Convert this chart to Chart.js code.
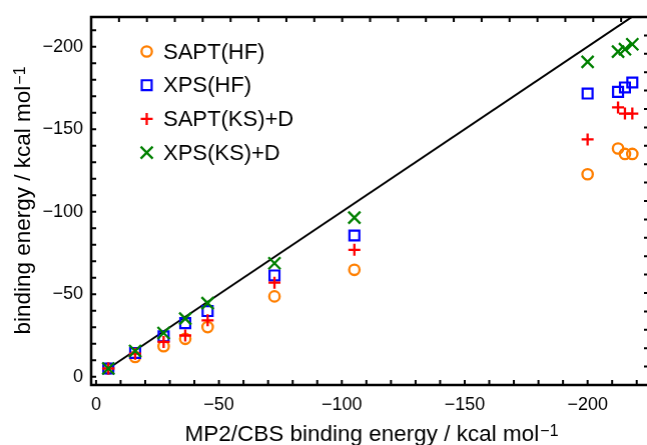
<!DOCTYPE html>
<html><head><meta charset="utf-8">
<script src="https://cdn.jsdelivr.net/npm/chart.js@4.4.1/dist/chart.umd.min.js"></script>
<style>
html,body{margin:0;padding:0;background:#fff;overflow:hidden;}
#wrap{position:relative;width:650px;height:445px;}
</style></head><body>
<div id="wrap"><canvas id="c"></canvas></div>
<script>
// MP2/CBS reference binding energies (x) and method results (y), kcal/mol
const mp2     = [-5.0, -15.9, -27.5, -36.3, -45.4, -72.6, -105.1, -200.0, -212.4, -215.2, -218.2];
const saptHF  = [-5.0, -12.0, -18.5, -23.0, -30.1, -48.7, -64.8, -122.7, -138.3, -135.0, -135.0];
const xpsHF   = [-5.0, -14.4, -24.5, -32.5, -39.8, -61.4, -85.6, -171.6, -172.6, -175.3, -178.3];
const saptKSD = [-5.0, -14.0, -21.1, -25.0, -34.2, -57.0, -76.9, -143.8, -163.2, -159.5, -159.5];
const xpsKSD  = [-5.0, -15.6, -26.5, -35.2, -44.6, -68.8, -96.4, -190.8, -197.0, -198.5, -201.5];
const diagX   = [-5.0, -240.0];
const seriesNames = ['SAPT(HF)', 'XPS(HF)', 'SAPT(KS)+D', 'XPS(KS)+D'];
const xTickValues = [0, -10, -20, -30, -40, -50, -60, -70, -80, -90, -100, -110, -120, -130, -140, -150, -160, -170, -180, -190, -200, -210, -220];
const yTickValues = [0, -10, -20, -30, -40, -50, -60, -70, -80, -90, -100, -110, -120, -130, -140, -150, -160, -170, -180, -190, -200, -210];
const majorStep = 50;
const xTitle = 'MP2/CBS binding energy / kcal mol';
const yTitle = 'binding energy / kcal mol';
const unitSup = '\u22121';

const FONT = '"Liberation Sans", Arial, Helvetica, sans-serif';
const PLOT_RIGHT = 648;
const styles = [
  {color:'#ff7f00', pointStyle:'circle',   radius:5.2, bw:2.3},
  {color:'#0000ff', pointStyle:'rect',     radius:7,   bw:2.2},
  {color:'#ff0000', pointStyle:'cross',    radius:6,   bw:2.3},
  {color:'#008000', pointStyle:'crossRot', radius:8.5, bw:2.3}
];
const seriesY = [saptHF, xpsHF, saptKSD, xpsKSD];

const datasets = seriesY.map((arr, k) => ({
  label: seriesNames[k],
  type: 'scatter',
  data: mp2.map((x, i) => ({x: x, y: arr[i]})),
  pointStyle: styles[k].pointStyle,
  pointRadius: styles[k].radius,
  pointHoverRadius: styles[k].radius,
  pointBorderWidth: styles[k].bw,
  pointBorderColor: styles[k].color,
  pointBackgroundColor: 'rgba(0,0,0,0)',
  showLine: false,
  order: 4 - k
}));
datasets.push({
  label: 'y = x',
  type: 'line',
  data: diagX.map(v => ({x: v, y: v})),
  borderColor: '#000',
  borderWidth: 2,
  pointRadius: 0,
  fill: false,
  order: 10
});

function fmt(v){
  if (v % majorStep !== 0) return '';
  return v === 0 ? '0' : '\u2212' + Math.abs(v);
}

const framePlugin = {
  id: 'frame',
  afterDatasetsDraw(chart){
    const {ctx, chartArea: a, scales: {x, y}} = chart;
    ctx.save();
    ctx.strokeStyle = '#000';
    ctx.lineWidth = 2;
    const L = 5;
    ctx.beginPath();
    x.ticks.forEach(t => {
      const px = x.getPixelForValue(t.value);
      ctx.moveTo(px, a.bottom); ctx.lineTo(px, a.bottom - L);
    });
    y.ticks.forEach(t => {
      const py = y.getPixelForValue(t.value);
      ctx.moveTo(a.left, py); ctx.lineTo(a.left + L, py);
    });
    for (let i = 1; i < 20; i++) {
      const px = a.left + i * (a.right - a.left) / 20;
      ctx.moveTo(px, a.top); ctx.lineTo(px, a.top + L);
      const py = a.bottom - i * (a.bottom - a.top) / 20;
      ctx.moveTo(a.right, py); ctx.lineTo(a.right - L, py);
    }
    ctx.stroke();
    ctx.lineWidth = 2.5;
    ctx.strokeRect(a.left, a.top, a.right - a.left, a.bottom - a.top);
    ctx.restore();
  }
};

function drawWithSup(ctx, main, sup, cx, by, mainSize, supSize, rise){
  ctx.font = mainSize + 'px ' + FONT;
  const w1 = ctx.measureText(main).width;
  ctx.font = supSize + 'px ' + FONT;
  const w2 = ctx.measureText(sup).width;
  const sx = cx - (w1 + w2) / 2;
  ctx.textAlign = 'left';
  ctx.textBaseline = 'alphabetic';
  ctx.font = mainSize + 'px ' + FONT;
  ctx.fillText(main, sx, by);
  ctx.font = supSize + 'px ' + FONT;
  ctx.fillText(sup, sx + w1 + 1, by - rise);
}

const textPlugin = {
  id: 'texts',
  afterDraw(chart){
    const {ctx, chartArea: a} = chart;
    ctx.save();
    ctx.fillStyle = '#000';
    drawWithSup(ctx, xTitle, unitSup, (a.left + a.right) / 2 + 1, 441, 22.5, 16, 5);
    ctx.translate(30, (a.top + a.bottom) / 2);
    ctx.rotate(-Math.PI / 2);
    drawWithSup(ctx, yTitle, unitSup, 0, 0, 22.5, 16, 5);
    ctx.restore();

    // legend
    ctx.save();
    const lx = 146.5, tx = 163, y0 = 51.5, dy = 33.7;
    chart.data.datasets.slice(0, 4).forEach((ds, k) => {
      const yy = y0 + k * dy;
      ctx.strokeStyle = ds.pointBorderColor;
      ctx.fillStyle = 'rgba(0,0,0,0)';
      ctx.lineWidth = ds.pointBorderWidth;
      Chart.helpers.drawPoint(ctx, {pointStyle: ds.pointStyle, radius: ds.pointRadius, borderWidth: ds.pointBorderWidth, rotation: 0}, lx, yy);
      ctx.fillStyle = '#000';
      ctx.font = '22px ' + FONT;
      ctx.textAlign = 'left';
      ctx.textBaseline = 'middle';
      ctx.fillText(ds.label, tx, yy + 1);
    });
    ctx.restore();
  }
};

const chart = new Chart(document.getElementById('c'), {
  data: {datasets},
  options: {
    responsive: true,
    maintainAspectRatio: false,
    devicePixelRatio: 1,
    animation: false,
    layout: {padding: {top: 17, right: 2, left: 0, bottom: 0}},
    plugins: {legend: {display: false}, tooltip: {enabled: false}},
    scales: {
      x: {
        type: 'linear', reverse: true, min: -225, max: 2,
        grid: {display: false, drawTicks: false},
        border: {display: false},
        afterBuildTicks: s => { s.ticks = xTickValues.map(v => ({value: v})); },
        ticks: {autoSkip: false, maxRotation: 0, padding: 9,
                color: '#000', font: {family: FONT, size: 18}, callback: fmt},
        afterFit: s => { s.height = 60; s.paddingLeft = 0; s.paddingRight = 0; }
      },
      y: {
        type: 'linear', reverse: true, min: -218, max: 5,
        grid: {display: false, drawTicks: false},
        border: {display: false},
        afterBuildTicks: s => { s.ticks = yTickValues.map(v => ({value: v})); },
        ticks: {autoSkip: false, padding: 8,
                color: '#000', font: {family: FONT, size: 18}, callback: fmt},
        afterFit: s => { s.width = 91; s.paddingTop = 0; s.paddingBottom = 0; }
      }
    }
  },
  plugins: [framePlugin, textPlugin]
});

// widen the (clipped) canvas so the plot frame's right edge sits just past the window edge
const wrap = document.getElementById('wrap');
for (let i = 0; i < 4; i++) {
  const d = PLOT_RIGHT - chart.chartArea.right;
  if (Math.abs(d) < 0.5) break;
  wrap.style.width = (wrap.getBoundingClientRect().width + d) + 'px';
  chart.resize();
}
</script>
</body></html>
